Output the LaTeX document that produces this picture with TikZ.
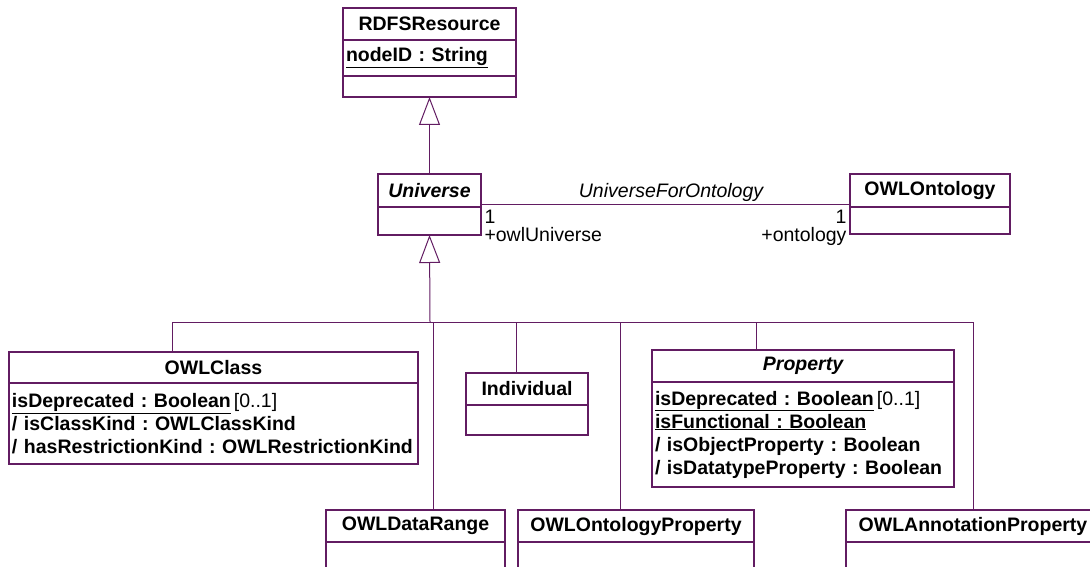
\documentclass[tikz,border=0pt]{standalone}
\usepackage{fontspec}
\setmainfont{Liberation Sans}
\usepackage{tikz}
\usetikzlibrary{arrows.meta, positioning}
\definecolor{umlline}{RGB}{98,28,98}
\frenchspacing
\hyphenpenalty=10000

\begin{document}
\begin{tikzpicture}[
  x=1pt, y=1pt,
  font=\fontsize{19.5pt}{23pt}\selectfont,
  clsname/.style={draw=umlline, line width=1.3pt, anchor=north west, outer sep=0pt, inner sep=0pt, minimum height=32pt, font=\fontsize{19.5pt}{23pt}\selectfont\bfseries},
  clsattr/.style={draw=umlline, line width=1.3pt, outer sep=0pt, inner xsep=3pt, inner ysep=0pt, align=left, font=\fontsize{19.5pt}{23pt}\selectfont\bfseries},
  clsempty/.style={draw=umlline, line width=1.3pt, outer sep=0pt, inner sep=0pt},
  link/.style={draw=umlline, line width=1pt},
  gen/.style={link, -{Triangle[open, length=28pt, width=21pt]}},
  role/.style={font=\fontsize{19.5pt}{18pt}\selectfont, inner sep=3pt, yshift=-3pt}
]
  \useasboundingbox (0,0) rectangle (1090,-567);

  % top of the hierarchy
  \node[clsname, minimum width=173pt] (rdfs) at (343,-8) {RDFSResource};
  \node[clsattr, text width=167pt, minimum height=36pt, below=0pt of rdfs] (rdfsattr) {\underline{nodeID : String}};
  \node[clsempty, minimum width=173pt, minimum height=21pt, below=0pt of rdfsattr] (rdfsops) {};

  \node[clsname, minimum width=103pt, minimum height=33pt] (univ) at (378,-174) {\itshape Universe};
  \node[clsempty, minimum width=103pt, minimum height=28pt, below=0pt of univ] (univattr) {};

  \node[clsname, minimum width=160pt, minimum height=33pt] (onto) at (850,-174) {OWLOntology};
  \node[clsempty, minimum width=160pt, minimum height=27pt, below=0pt of onto] (ontoattr) {};

  % subclasses of Universe
  \node[clsname, minimum width=409pt, minimum height=31pt] (owlclass) at (9,-352) {OWLClass};
  \node[clsattr, text width=403pt, minimum height=81pt, below=0pt of owlclass] (owlclassattr)
    {\underline{isDeprecated : Boolean}\hspace{3pt}{\mdseries[0..1]}\\
     / isClassKind : OWLClassKind\\
     / hasRestrictionKind : OWLRestrictionKind};

  \node[clsname, minimum width=122pt] (individual) at (466,-373) {Individual};
  \node[clsempty, minimum width=122pt, minimum height=30pt, below=0pt of individual] (individualattr) {};

  \node[clsname, minimum width=302pt] (property) at (652,-350) {\itshape Property};
  \node[clsattr, text width=296pt, minimum height=105pt, below=0pt of property] (propertyattr)
    {\underline{isDeprecated : Boolean}\hspace{3pt}{\mdseries[0..1]}\\
     \underline{isFunctional : Boolean}\\
     / isObjectProperty : Boolean\\
     / isDatatypeProperty : Boolean};

  \node[clsname, minimum width=179pt] (datarange) at (326,-510) {OWLDataRange};
  \node[clsempty, minimum width=179pt, minimum height=60pt, below=0pt of datarange] (datarangeattr) {};

  \node[clsname, minimum width=236pt] (ontprop) at (518,-510) {OWLOntologyProperty};
  \node[clsempty, minimum width=236pt, minimum height=60pt, below=0pt of ontprop] (ontpropattr) {};

  \node[clsname, minimum width=254pt] (annprop) at (846,-510) {OWLAnnotationProperty};
  \node[clsempty, minimum width=254pt, minimum height=60pt, below=0pt of annprop] (annpropattr) {};

  % generalisations
  \coordinate (bus) at (430,-322);
  \draw[gen] (univ.north) -- (rdfsops.south);
  \draw[gen] (bus) -- (univattr.south);
  \draw[link] ([xshift=163pt]owlclass.north west) |- (bus);
  \draw[link] ([xshift=107pt]datarange.north west) |- (bus);
  \draw[link] ([xshift=50pt]individual.north west) |- (bus);
  \draw[link] ([xshift=102pt]ontprop.north west) |- (bus);
  \draw[link] ([xshift=104pt]property.north west) |- (bus);
  \draw[link] (annprop.north) |- (bus);

  % association
  \draw[link] ([yshift=3pt]univ.south east) --
    node[pos=0.515, above, inner sep=2pt, font=\fontsize{19.5pt}{23pt}\selectfont\itshape] {UniverseForOntology}
    node[pos=0, role, anchor=north west, align=left] {1\\+owlUniverse}
    node[pos=1, role, anchor=north east, align=right] {1\\+ontology}
    ([yshift=3pt]onto.south west);
\end{tikzpicture}
\end{document}
